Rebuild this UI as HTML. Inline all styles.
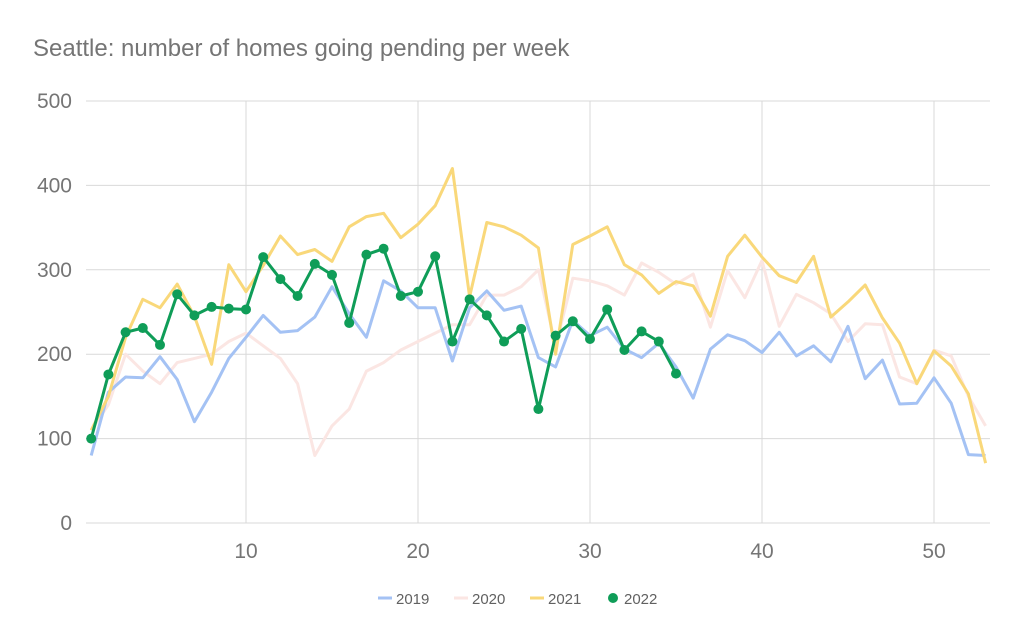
<!DOCTYPE html>
<html><head><meta charset="utf-8"><style>
body{margin:0;background:#fff;}
svg{display:block;font-family:"Liberation Sans",Arial,sans-serif;}
</style></head><body>
<svg id="c" width="1024" height="641" viewBox="0 0 1024 641" xmlns="http://www.w3.org/2000/svg">
<rect width="1024" height="641" fill="#fff"/>
<text x="33" y="56" font-size="24" fill="#757575">Seattle: number of homes going pending per week</text>
<g id="grid" stroke="#d9d9d9" stroke-width="1"></g>
<g id="labels" fill="#757575" font-size="21"></g>
<g id="series" fill="none" stroke-width="3" stroke-linejoin="round"></g>
<g font-size="15" fill="#616161">
<line x1="378" y1="598" x2="392" y2="598" stroke="#a4c2f4" stroke-width="3"/><text x="396" y="604">2019</text>
<line x1="454" y1="598" x2="468" y2="598" stroke="#fbe6e3" stroke-width="3"/><text x="472" y="604">2020</text>
<line x1="530" y1="598" x2="544" y2="598" stroke="#f9d87a" stroke-width="3"/><text x="548" y="604">2021</text>
<circle cx="613" cy="598" r="5" fill="#0f9d58"/><text x="624" y="604">2022</text>
</g>
</svg>
<script>
const NS="http://www.w3.org/2000/svg";
const X=w=>91.2+(w-1)*17.2, Y=v=>523-0.844*v;
const g=document.getElementById('grid'),L=document.getElementById('labels'),S=document.getElementById('series');
function el(p,t,a,txt){const e=document.createElementNS(NS,t);for(const k in a)e.setAttribute(k,a[k]);if(txt!==undefined)e.textContent=txt;p.appendChild(e);return e;}
for(let v=0;v<=500;v+=100){el(g,'line',{x1:86,x2:990,y1:Y(v),y2:Y(v)});el(L,'text',{x:72,y:Y(v)+7,'text-anchor':'end'},v);}
for(let w=10;w<=50;w+=10){el(g,'line',{x1:X(w),x2:X(w),y1:101,y2:523});el(L,'text',{x:X(w),y:558,'text-anchor':'middle'},w);}
const d2020=[110,140,200,180,165,190,195,200,215,225,210,195,165,80,115,135,180,190,205,215,225,235,235,270,270,280,300,210,290,287,281,270,308,297,283,295,232,299,267,311,233,271,261,248,215,236,235,173,165,205,198,150,115];
const d2019=[80,155,173,172,197,170,120,155,195,220,246,226,228,244,280,248,220,287,275,255,255,192,255,275,252,257,196,185,240,222,232,206,196,213,185,148,206,223,216,202,226,198,210,191,233,171,193,141,142,172,142,81,80];
const d2021=[110,150,220,265,255,283,245,188,306,274,305,340,318,324,310,351,363,367,338,354,376,420,268,356,351,341,326,200,330,340,351,306,294,272,286,281,245,316,341,315,293,285,316,244,262,282,243,213,165,204,186,153,71];
const d2022=[100,176,226,231,211,271,246,256,254,253,315,289,269,307,294,237,318,325,269,274,316,215,265,246,215,230,135,222,239,218,253,205,227,215,177];
function line(d,c){el(S,'polyline',{points:d.map((v,i)=>X(i+1).toFixed(1)+','+Y(v).toFixed(1)).join(' '),stroke:c});}
line(d2020,'#fbe6e3');line(d2019,'#a4c2f4');line(d2021,'#f9d87a');line(d2022,'#0f9d58');
d2022.forEach((v,i)=>el(S,'circle',{cx:X(i+1),cy:Y(v),r:5,fill:'#0f9d58',stroke:'none'}));
</script>
</body></html>
